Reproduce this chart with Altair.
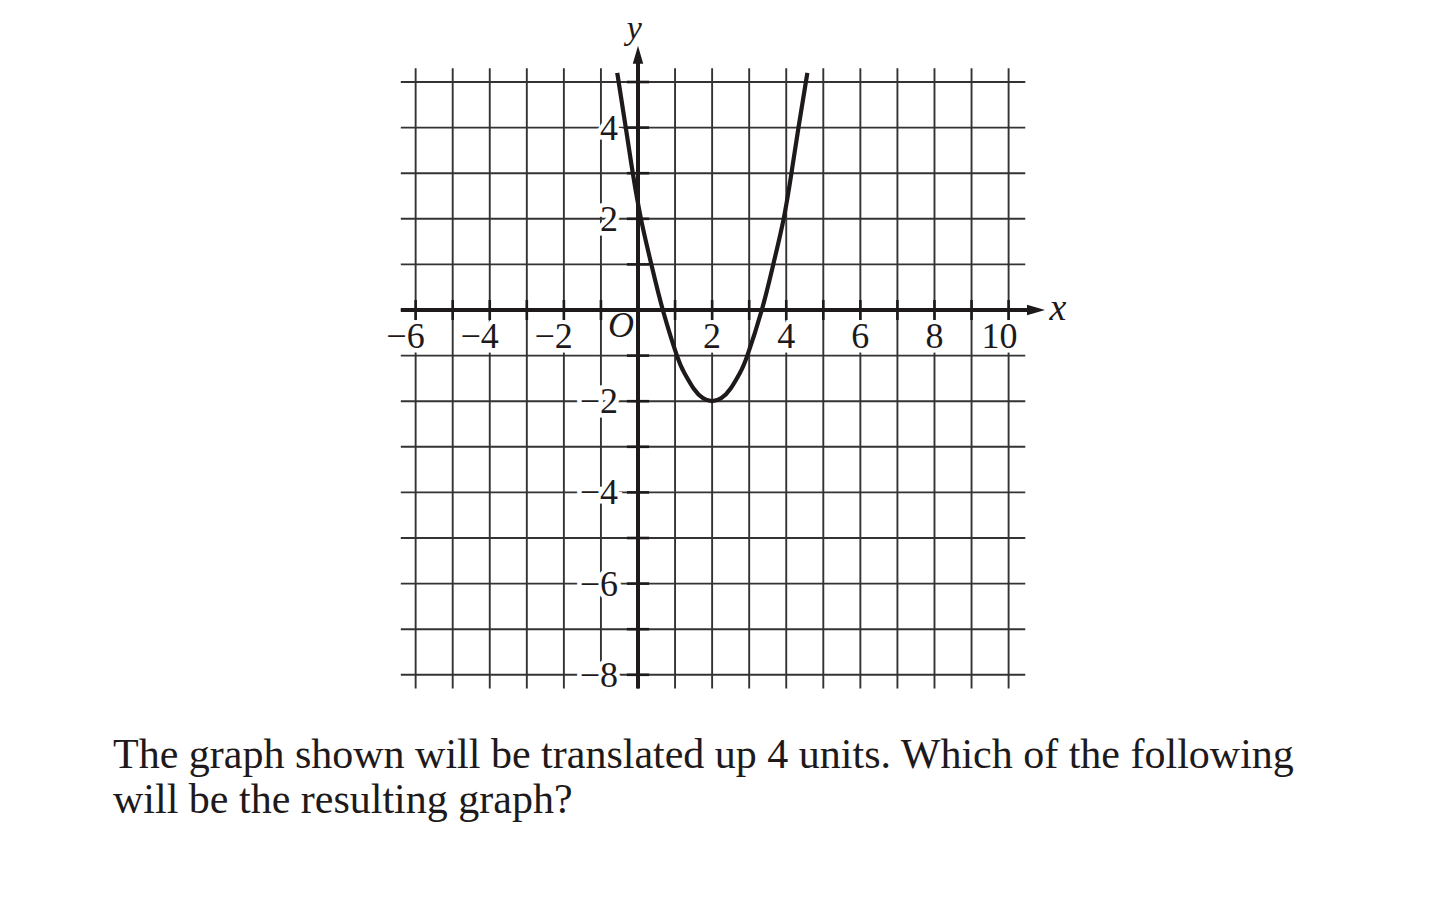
import altair as alt
import pandas as pd

# ---- data ----
grid_x = list(range(-6, 11))          # vertical grid lines
grid_y = list(range(-8, 6))           # horizontal grid lines
x_tick_vals = [-6, -4, -2, 2, 4, 6, 8, 10]
x_tick_text = ["\u22126", "\u22124", "\u22122", "2", "4", "6", "8", "10"]
y_tick_vals = [-8, -6, -4, -2, 2, 4]
y_tick_text = ["\u22128", "\u22126", "\u22124", "\u22122", "2", "4"]

# parabola points
curve_x = [-0.56, -0.33, -0.14, 0.08, 0.36, 0.67, 1.05, 1.25, 1.5, 1.75, 2.0,
           2.25, 2.5, 2.75, 2.95, 3.34, 3.65, 3.93, 4.14, 4.33, 4.57]
curve_y = [5.2, 4.0, 3.0, 2.0, 1.0, 0.0, -1.0, -1.38, -1.72, -1.93, -2.0,
           -1.93, -1.72, -1.38, -1.0, 0.0, 1.0, 2.0, 3.0, 4.0, 5.2]

caption = ["The graph shown will be translated up 4 units. Which of the following",
           "will be the resulting graph?"]

# ---- layout (scale geometry) ----
PXX, PXY = 37.06, 45.6
PAD_TOP = 10
TOP = 8 + PAD_TOP
W, H = 990, 700 - TOP
XMIN = -(638 - 113) / PXX
XMAX = XMIN + W / PXX
YMAX = (310 - TOP) / PXY
YMIN = YMAX - H / PXY
GX0, GX1 = -6.4, 10.45       # horizontal grid extent
GY0, GY1 = -8.3, 5.3         # vertical grid extent

xs = alt.Scale(domain=[XMIN, XMAX], nice=False, zero=False)
ys = alt.Scale(domain=[YMIN, YMAX], nice=False, zero=False)
SERIF = "Liberation Serif"
INK = "#1e1a1b"
GRID = "#333333"


def X(field=None, datum=None):
    if datum is not None:
        return alt.X(datum=datum, scale=xs, axis=None)
    return alt.X(field, type="quantitative", scale=xs, axis=None)


def Y(field=None, datum=None):
    if datum is not None:
        return alt.Y(datum=datum, scale=ys, axis=None)
    return alt.Y(field, type="quantitative", scale=ys, axis=None)


gx = pd.DataFrame({"x": grid_x})
gy = pd.DataFrame({"y": grid_y})

vgrid = alt.Chart(gx).mark_rule(color=GRID, strokeWidth=1.9).encode(
    x=X("x"), y=Y(datum=GY0), y2=alt.Y2(datum=GY1))
hgrid = alt.Chart(gy).mark_rule(color=GRID, strokeWidth=1.9).encode(
    y=Y("y"), x=X(datum=GX0), x2=alt.X2(datum=GX1))

xl = pd.DataFrame({"v": x_tick_vals, "t": x_tick_text, "z": [0] * len(x_tick_vals)})
yl = pd.DataFrame({"v": y_tick_vals, "t": y_tick_text, "z": [0] * len(y_tick_vals)})


def xlabels(halo):
    kw = dict(font=SERIF, fontSize=36, align="right", baseline="middle", dx=9, dy=27)
    if halo:
        kw.update(color="white", stroke="white", strokeWidth=9)
    else:
        kw.update(color=INK)
    return alt.Chart(xl).mark_text(**kw).encode(x=X("v"), y=Y("z"), text="t:N")


def ylabels(halo):
    kw = dict(font=SERIF, fontSize=36, align="right", baseline="middle", dx=-20, dy=1)
    if halo:
        kw.update(color="white", stroke="white", strokeWidth=9)
    else:
        kw.update(color=INK)
    return alt.Chart(yl).mark_text(**kw).encode(x=X("z"), y=Y("v"), text="t:N")


origin = alt.Chart(pd.DataFrame({"x": [-0.46], "y": [-0.35], "t": ["O"]})).mark_text(
    font=SERIF, fontSize=36, fontStyle="italic", color=INK, baseline="middle", align="center"
).encode(x=X("x"), y=Y("y"), text="t:N")

x_lab = alt.Chart(pd.DataFrame({"x": [11.33], "y": [-0.22], "t": ["x"]})).mark_text(
    font=SERIF, fontSize=38, fontStyle="italic", color=INK, baseline="alphabetic", align="center"
).encode(x=X("x"), y=Y("y"), text="t:N")
y_lab = alt.Chart(pd.DataFrame({"x": [-0.1], "y": [5.95], "t": ["y"]})).mark_text(
    font=SERIF, fontSize=34, fontStyle="italic", color=INK, baseline="alphabetic", align="center"
).encode(x=X("x"), y=Y("y"), text="t:N")

xaxis = alt.Chart(pd.DataFrame({"a": [0]})).mark_rule(color=INK, strokeWidth=4).encode(
    y=Y("a"), x=X(datum=GX0), x2=alt.X2(datum=10.6))
yaxis = alt.Chart(pd.DataFrame({"a": [0]})).mark_rule(color=INK, strokeWidth=4).encode(
    x=X("a"), y=Y(datum=GY0), y2=alt.Y2(datum=5.5))

xticks = alt.Chart(gx).mark_rule(color=INK, strokeWidth=2.6).encode(
    x=X("x"), y=Y(datum=-0.22), y2=alt.Y2(datum=0.22))
yticks = alt.Chart(gy).mark_rule(color=INK, strokeWidth=2.6).encode(
    y=Y("y"), x=X(datum=-0.3), x2=alt.X2(datum=0.3))

arrow_up = alt.Chart(pd.DataFrame({"x": [0], "y": [5.6]})).mark_point(
    shape="M0,-1L0.58,1L-0.58,1Z", size=324, filled=True, color=INK, opacity=1, strokeWidth=0
).encode(x=X("x"), y=Y("y"))
arrow_right = alt.Chart(pd.DataFrame({"x": [10.74], "y": [0]})).mark_point(
    shape="M1,0L-1,-0.58L-1,0.58Z", size=324, filled=True, color=INK, opacity=1, strokeWidth=0
).encode(x=X("x"), y=Y("y"))

curve = alt.Chart(pd.DataFrame({"x": curve_x, "y": curve_y, "o": list(range(len(curve_x)))})).mark_line(
    color=INK, strokeWidth=4.2, interpolate="natural", strokeCap="butt"
).encode(x=X("x"), y=Y("y"), order="o:Q")

chart = alt.layer(
    vgrid, hgrid,
    xlabels(True), ylabels(True),
    xlabels(False), ylabels(False),
    origin, x_lab, y_lab,
    xticks, yticks, xaxis, yaxis, arrow_up, arrow_right,
    curve,
).properties(
    width=W, height=H,
    autosize=alt.AutoSizeParams(type="none"),
    padding={"left": 105, "top": PAD_TOP, "right": 230, "bottom": 195},
    title=alt.TitleParams(
        text=caption, orient="bottom", anchor="start", frame="group", offset=35,
        fontSize=42, font=SERIF, fontWeight="normal", color=INK, lineHeight=45, baseline="top",
    ),
).configure(background="white", view=alt.ViewConfig(stroke=None))

chart.save("out.html", embed_options={"renderer": "svg", "actions": False})
